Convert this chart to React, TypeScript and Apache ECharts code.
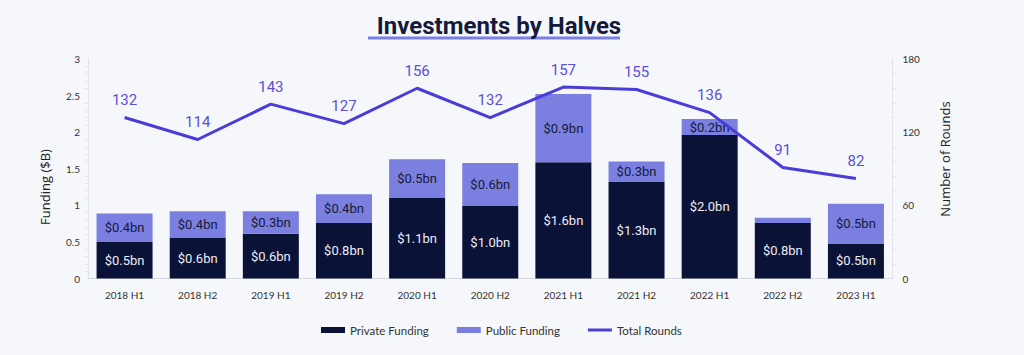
import React, { useEffect, useRef } from "react";
import * as echarts from "echarts";

const categories = ["2018 H1", "2018 H2", "2019 H1", "2019 H2", "2020 H1", "2020 H2", "2021 H1", "2021 H2", "2022 H1", "2022 H2", "2023 H1"];
const privateFunding = [0.5, 0.56, 0.61, 0.76, 1.1, 0.99, 1.59, 1.32, 1.96, 0.76, 0.48];
const publicFunding = [0.39, 0.36, 0.31, 0.39, 0.53, 0.59, 0.93, 0.28, 0.22, 0.07, 0.54];
const totalRounds = [132, 114, 143, 127, 156, 132, 157, 155, 136, 91, 82];
const leftTicks = { min: 0, max: 3, interval: 0.5 };
const rightTicks = { min: 0, max: 180, interval: 60 };

const BG = "#f6f7fa";
const NAVY = "#0b1238";
const PUBLIC = "#7a7fe0";
const LINE = "#4a3cd6";

export default function App() {
  const ref = useRef<HTMLDivElement>(null);
  useEffect(() => {
    if (!ref.current) return;
    const chart = echarts.init(ref.current, undefined, { renderer: "svg" });
    const axisLabelStyle = { color: "#333", fontSize: 10, fontFamily: "Lato" };
    chart.setOption({
      animation: false,
      backgroundColor: BG,
      grid: { left: 88, right: 131.5, top: 59, bottom: 76.5 },
      title: {
        text: "Investments by Halves",
        left: 494,
        textAlign: "center",
        top: 9,
        textStyle: { fontFamily: "Roboto", fontWeight: "bold", fontSize: 24, color: "#141a3a" },
      },
      graphic: [
        { type: "rect", shape: { x: 368, y: 36.5, width: 252, height: 3 }, style: { fill: "#7b80e6" } },
        {
          type: "text",
          x: 45,
          y: 187,
          rotation: Math.PI / 2,
          style: { text: "Funding ($B)", fontSize: 13, fontFamily: "Open Sans", fill: "#222", align: "center", verticalAlign: "middle" },
        },
        {
          type: "text",
          x: 945,
          y: 159,
          rotation: Math.PI / 2,
          style: { text: "Number of Rounds", fontSize: 13, fontFamily: "Open Sans", fill: "#222", align: "center", verticalAlign: "middle" },
        },
      ],
      legend: {
        bottom: 14,
        left: 316,
        itemGap: 28,
        itemWidth: 24,
        itemHeight: 6,
        textStyle: { color: "#333", fontSize: 11.5, fontFamily: "Lato" },
        data: [
          { name: "Private Funding", icon: "rect" },
          { name: "Public Funding", icon: "rect" },
          { name: "Total Rounds", icon: "path://M0,0 H24 V3 H0 Z", itemStyle: { color: LINE } },
        ],
      },
      xAxis: {
        type: "category",
        data: categories,
        axisLine: { lineStyle: { color: "#d0d3da", type: "dotted" } },
        axisTick: { show: false },
        axisLabel: { ...axisLabelStyle, margin: 11 },
      },
      yAxis: [
        {
          type: "value",
          ...leftTicks,
          axisLine: { show: true, lineStyle: { color: "#e2e4ea" } },
          axisTick: { show: false },
          minorTick: { show: true, splitNumber: 5, length: 3, lineStyle: { color: "#e2e4ea" } },
          splitLine: { show: false },
          axisLabel: { ...axisLabelStyle, margin: 8 },
        },
        {
          type: "value",
          ...rightTicks,
          axisLine: { show: true, lineStyle: { color: "#e2e4ea" } },
          axisTick: { show: false },
          minorTick: { show: true, splitNumber: 5, length: 3, lineStyle: { color: "#e2e4ea" } },
          splitLine: { show: false },
          axisLabel: { ...axisLabelStyle, margin: 10 },
        },
      ],
      series: [
        {
          name: "Private Funding",
          type: "bar",
          stack: "f",
          barWidth: 56,
          data: privateFunding,
          itemStyle: { color: NAVY },
          label: {
            show: true,
            position: "inside",
            color: "#eceef5",
            fontSize: 13,
            fontFamily: "Roboto",
            formatter: (p: any) => "$" + p.value.toFixed(1) + "bn",
          },
        },
        {
          name: "Public Funding",
          type: "bar",
          stack: "f",
          barWidth: 56,
          data: publicFunding,
          itemStyle: { color: PUBLIC },
          label: {
            show: true,
            position: "inside",
            color: "#161a3a",
            fontSize: 13,
            fontFamily: "Roboto",
            formatter: (p: any) => (p.value < 0.1 ? "" : "$" + p.value.toFixed(1) + "bn"),
          },
        },
        {
          name: "Total Rounds",
          type: "line",
          yAxisIndex: 1,
          data: totalRounds,
          symbol: "circle",
          symbolSize: 0,
          showSymbol: true,
          lineStyle: { color: LINE, width: 3 },
          itemStyle: { color: LINE },
          label: {
            show: true,
            position: "top",
            distance: 10,
            color: "#5a4fd8",
            fontSize: 15,
            fontFamily: "Roboto",
          },
        },
      ],
    });
    return () => chart.dispose();
  }, []);
  return <div ref={ref} style={{ position: "absolute", left: 0, top: 0, width: 1024, height: 355 }} />;
}
